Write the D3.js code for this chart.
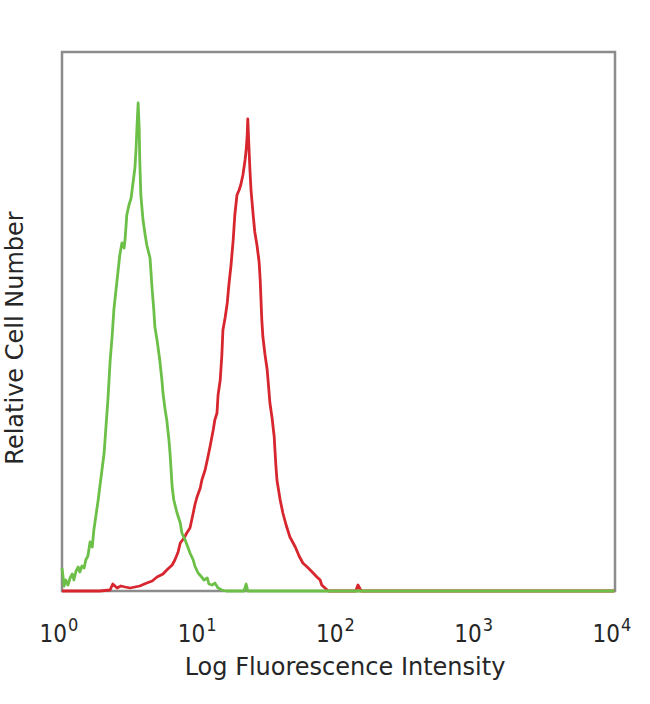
<!DOCTYPE html>
<html lang="en">

<head>
    <meta charset="utf-8" />
    <script src="https://cdnjs.cloudflare.com/ajax/libs/d3/7.8.5/d3.min.js"></script>
    <style type="text/css">
        html,
        body {
            margin: 0;
            padding: 0;
            background: #ffffff;
        }

        svg {
            display: block;
        }

        .tick-label {
            font-family: 'DejaVu Sans Condensed', 'DejaVu Sans', sans-serif;
            fill: #262626;
        }

        .axis-title {
            font-family: 'DejaVu Sans', sans-serif;
            font-size: 24px;
            fill: #262626;
        }
    </style>
</head>

<body>
    <div class="svg-box"></div>
    <script type="text/javascript">
        // Histogram data, 1024 channels over 4 log decades
        var greenChannel = [0, 4, 7, 11, 15, 19, 22, 26, 30, 33, 37, 41, 44, 48, 52, 56, 59, 63, 67, 70,
            74, 78, 81, 85, 89, 93, 96, 100, 104, 107, 111, 115, 117, 120, 124, 128, 131, 135, 137, 139,
            141, 143, 144, 146, 150, 154, 157, 163, 167, 170, 172, 176, 181, 185, 187, 191, 194, 198, 200, 202,
            204, 207, 213, 219, 222, 228, 233, 237, 243, 246, 252, 257, 263, 269, 272, 278, 283, 289, 296, 304,
            337, 341, 344, 1023];
        var greenCount = [23, 5, 11, 6, 13, 17, 11, 20, 24, 19, 25, 23, 31, 35, 49, 44, 61, 76, 91, 104,
            121, 138, 161, 191, 229, 256, 281, 301, 321, 336, 348, 343, 353, 376, 386, 393, 406, 423, 441, 466,
            488, 461, 431, 396, 371, 356, 346, 333, 301, 281, 264, 251, 231, 211, 198, 181, 171, 151, 138, 121,
            104, 91, 78, 68, 58, 51, 44, 38, 31, 25, 18, 15, 11, 13, 7, 6, 8, 3, 1, 0,
            0, 7, 0, 0];

        var redChannel = [0, 33, 70, 89, 94, 102, 109, 117, 126, 135, 144, 157, 167, 176, 187, 194, 204, 209, 215, 219,
            226, 231, 237, 243, 246, 250, 256, 259, 265, 269, 274, 280, 283, 287, 289, 293, 296, 298, 302, 306,
            309, 313, 317, 320, 322, 324, 328, 331, 335, 339, 341, 343, 344, 346, 348, 350, 354, 357, 361, 365,
            367, 370, 372, 376, 380, 385, 389, 393, 394, 396, 398, 404, 409, 415, 422, 432, 439, 446, 456, 465,
            472, 478, 481, 487, 493, 544, 548, 554, 1023];
        var redCount = [0, 0, 0, 1, 7, 3, 5, 4, 3, 4, 5, 8, 10, 14, 17, 21, 26, 31, 39, 48,
            53, 58, 63, 78, 86, 94, 103, 111, 121, 131, 144, 161, 171, 178, 196, 211, 236, 261, 273, 288,
            306, 326, 351, 376, 386, 396, 401, 406, 416, 431, 441, 456, 472, 446, 421, 401, 376, 359, 346, 329,
            311, 271, 254, 236, 221, 188, 173, 154, 144, 126, 111, 91, 78, 66, 54, 44, 35, 28, 23, 18,
            14, 11, 6, 3, 0, 0, 6, 0, 0];

        var tickChannels = [0, 256, 512, 768, 1024];
        var tickExponents = ['0', '1', '2', '3', '4'];

        let width = 650;
        let height = 704;
        let plot = { left: 62, top: 52, right: 615, bottom: 591 };

        var svg = d3.select('div.svg-box')
            .append('svg')
            .attr('width', width)
            .attr('height', height)
            .attr('viewBox', '0 0 ' + width + ' ' + height);

        var x = d3.scaleLinear()
            .domain([0, 1024])
            .range([plot.left, plot.right]);

        var y = d3.scaleLinear()
            .domain([0, 539])
            .range([plot.bottom, plot.top]);

        var line = d3.line()
            .x(function (d) { return x(d[0]); })
            .y(function (d) { return y(d[1]); });

        svg.append('rect')
            .attr('x', plot.left)
            .attr('y', plot.top)
            .attr('width', plot.right - plot.left)
            .attr('height', plot.bottom - plot.top)
            .attr('fill', 'none')
            .attr('stroke', '#8c8c8c')
            .attr('stroke-width', 2.5);

        var series = [
            { pts: d3.zip(redChannel, redCount), color: '#d7262e' },
            { pts: d3.zip(greenChannel, greenCount), color: '#6cbf47' }
        ];

        svg.selectAll('path.hist')
            .data(series)
            .enter()
            .append('path')
            .attr('class', 'hist')
            .attr('d', function (d) { return line(d.pts); })
            .attr('fill', 'none')
            .attr('stroke', function (d) { return d.color; })
            .attr('stroke-width', 2.8)
            .attr('stroke-linejoin', 'round');

        // x axis: no tick marks, each label is "10" plus a raised exponent
        svg.selectAll('text.tick-base')
            .data(tickChannels)
            .enter()
            .append('text')
            .attr('class', 'tick-label tick-base')
            .attr('x', function (d) { return x(d) + 5; })
            .attr('y', plot.bottom + 51)
            .attr('text-anchor', 'end')
            .style('font-size', '24px')
            .text('10');

        svg.selectAll('text.tick-exp')
            .data(tickChannels)
            .enter()
            .append('text')
            .attr('class', 'tick-label tick-exp')
            .attr('x', function (d) { return x(d) + 6; })
            .attr('y', plot.bottom + 40)
            .attr('text-anchor', 'start')
            .style('font-size', '18px')
            .text(function (d, i) { return tickExponents[i]; });

        svg.append('text')
            .attr('class', 'axis-title')
            .attr('x', 345)
            .attr('y', plot.bottom + 84)
            .attr('text-anchor', 'middle')
            .text('Log Fluorescence Intensity');

        svg.append('text')
            .attr('class', 'axis-title')
            .attr('transform', 'translate(23,338) rotate(-90)')
            .attr('text-anchor', 'middle')
            .text('Relative Cell Number');
    </script>
</body>

</html>
